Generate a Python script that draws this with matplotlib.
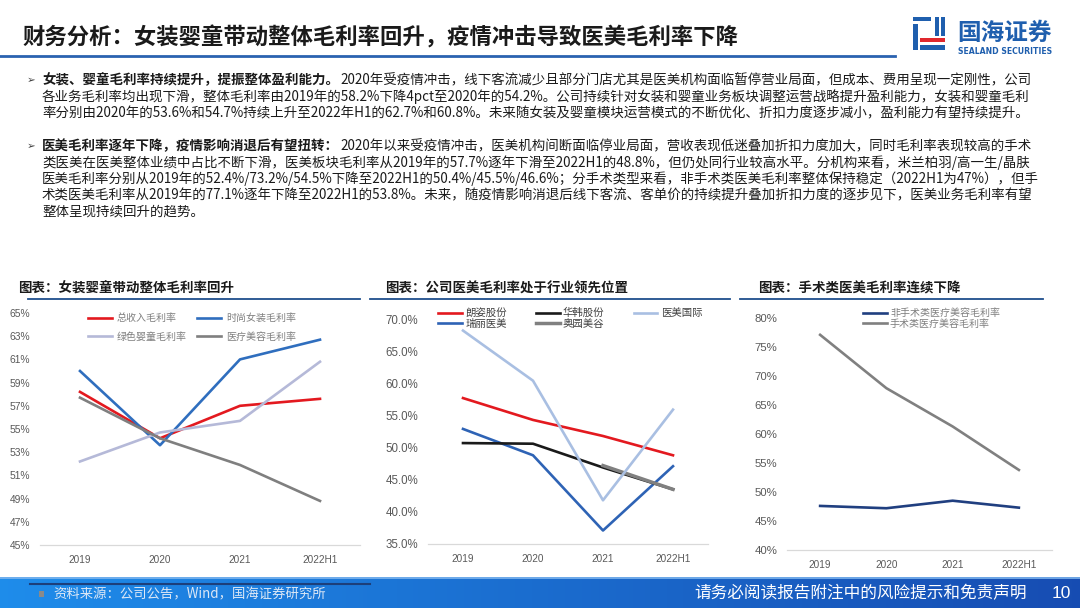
import numpy as np
import matplotlib
matplotlib.use("Agg")
import matplotlib.pyplot as plt
from matplotlib.patches import Rectangle
from matplotlib.lines import Line2D

plt.rcParams["font.family"] = ["Noto Sans CJK SC", "DejaVu Sans"]

W, H = 1080, 608

years = ["2019", "2020", "2021", "2022H1"]

# chart 1: gross margin by segment (%)
total_margin = [58.2, 54.2, 57.0, 57.6]
women_margin = [60.0, 53.6, 61.0, 62.7]
kids_margin = [52.2, 54.7, 55.7, 60.8]
medical_margin = [57.7, 54.2, 51.9, 48.8]

# chart 2: peers' medical beauty gross margin (%)
langzi = [57.7, 54.3, 51.8, 48.8]
huahan = [50.7, 50.6, 46.9, 43.5]
yimei_intl = [68.2, 60.4, 41.8, 55.9]
ruili = [52.9, 48.8, 37.1, 47.1]
aoyuan = [np.nan, np.nan, 47.2, 43.5]

# chart 3: surgical vs non-surgical (%)
non_surgical = [47.6, 47.2, 48.5, 47.3]
surgical = [77.1, 67.9, 61.3, 53.8]

fig = plt.figure(figsize=(W / 100, H / 100), dpi=100)


def fx(x):
    return x / W


def fy(y):
    return 1 - y / H


def add_ax(left, top, right, bottom):
    return fig.add_axes([fx(left), fy(bottom), (right - left) / W, (bottom - top) / H])


# ---- header ----
fig.text(fx(22), fy(38), "财务分析：女装婴童带动整体毛利率回升，疫情冲击导致医美毛利率下降",
         fontsize=16.1, fontweight="bold", color="#1a1a1a", va="center")
fig.add_artist(Line2D([0, fx(895)], [fy(56), fy(56)], color="#2a62b0", lw=2))

# logo
logo_blue = "#1f5fae"
for (x0, y0, w, h, c) in [(913, 17, 18, 4, logo_blue), (913, 24, 5, 26, logo_blue),
                          (935, 17, 4, 19, logo_blue), (941, 17, 4, 19, logo_blue),
                          (920, 38, 25, 4, "#e0282e"), (920, 45, 25, 5, logo_blue)]:
    fig.add_artist(Rectangle((fx(x0), fy(y0 + h)), w / W, h / H, color=c, lw=0))
fig.text(fx(957), fy(33), "国海证券", fontsize=17, fontweight="bold", color=logo_blue, va="center")
fig.text(fx(958), fy(52), "SEALAND SECURITIES", fontsize=5.6, fontweight="bold",
         color=logo_blue, va="center", family=["DejaVu Sans"])

# ---- bullet text ----
paras = [
    ("女装、婴童毛利率持续提升，提振整体盈利能力。",
     ["2020年受疫情冲击，线下客流减少且部分门店尤其是医美机构面临暂停营业局面，但成本、费用呈现一定刚性，公司",
      "各业务毛利率均出现下滑，整体毛利率由2019年的58.2%下降4pct至2020年的54.2%。公司持续针对女装和婴童业务板块调整运营战略提升盈利能力，女装和婴童毛利",
      "率分别由2020年的53.6%和54.7%持续上升至2022年H1的62.7%和60.8%。未来随女装及婴童模块运营模式的不断优化、折扣力度逐步减小，盈利能力有望持续提升。"],
     80),
    ("医美毛利率逐年下降，疫情影响消退后有望扭转：",
     ["2020年以来受疫情冲击，医美机构间断面临停业局面，营收表现低迷叠加折扣力度加大，同时毛利率表现较高的手术",
      "类医美在医美整体业绩中占比不断下滑，医美板块毛利率从2019年的57.7%逐年下滑至2022H1的48.8%，但仍处同行业较高水平。分机构来看，米兰柏羽/高一生/晶肤",
      "医美毛利率分别从2019年的52.4%/73.2%/54.5%下降至2022H1的50.4%/45.5%/46.6%；分手术类型来看，非手术类医美毛利率整体保持稳定（2022H1为47%），但手",
      "术类医美毛利率从2019年的77.1%逐年下降至2022H1的53.8%。未来，随疫情影响消退后线下客流、客单价的持续提升叠加折扣力度的逐步见下，医美业务毛利率有望",
      "整体呈现持续回升的趋势。"],
     146),
]
renderer = fig.canvas.get_renderer()
body_fs = 9.7
for bold, lines, y0 in paras:
    fig.text(fx(27), fy(y0), "➢", fontsize=7.5, color="#404040", va="center", family=["DejaVu Sans"])
    t = fig.text(fx(42), fy(y0), bold, fontsize=body_fs, fontweight="bold", color="#1a1a1a", va="center")
    bb = t.get_window_extent(renderer)
    for i, ln in enumerate(lines):
        x = bb.x1 + 1 if i == 0 else 42
        fig.text(fx(x), fy(y0 + i * 16.5), ln, fontsize=body_fs, color="#1a1a1a", va="center")

# ---- chart titles ----
titles = [(18, 28, 360, "图表：女装婴童带动整体毛利率回升"),
          (385, 370, 730, "图表：公司医美毛利率处于行业领先位置"),
          (758, 740, 1043, "图表：手术类医美毛利率连续下降")]
for tx, l0, l1, s in titles:
    fig.text(fx(tx), fy(289), s, fontsize=9.7, fontweight="bold", color="#1a1a1a", va="center")
    fig.add_artist(Line2D([fx(l0), fx(l1)], [fy(299), fy(299)], color="#1f4e8c", lw=1.3))

tick_font = {"family": ["Liberation Sans", "DejaVu Sans"]}


def style_ax(ax, ylim, step, fmt, yfs):
    x = np.arange(len(years))
    ax.set_xlim(-0.5, len(years) - 0.5)
    ax.set_ylim(*ylim)
    ax.set_xticks(x)
    ax.set_xticklabels(years, fontsize=7.2, color="#595959", **tick_font)
    yt = np.arange(ylim[0], ylim[1] + 0.01, step)
    ax.set_yticks(yt)
    ax.set_yticklabels([fmt.format(v) for v in yt], fontsize=yfs, color="#595959", **tick_font)
    for s in ["top", "right", "left"]:
        ax.spines[s].set_visible(False)
    ax.spines["bottom"].set_color("#d9d9d9")
    ax.spines["bottom"].set_linewidth(0.9)
    ax.tick_params(length=0)
    ax.tick_params(axis="y", pad=7)
    ax.tick_params(axis="x", pad=7)
    ax.patch.set_alpha(0)


x = np.arange(len(years))
lw = 1.9

# chart 1
ax1 = add_ax(40, 313, 360, 545)
l_total, = ax1.plot(x, total_margin, color="#e3191f", lw=lw, label="总收入毛利率")
l_women, = ax1.plot(x, women_margin, color="#2f6ebe", lw=lw, label="时尚女装毛利率")
l_kids, = ax1.plot(x, kids_margin, color="#b5b9d8", lw=lw, label="绿色婴童毛利率")
l_med, = ax1.plot(x, medical_margin, color="#7f7f7f", lw=lw, label="医疗美容毛利率")
style_ax(ax1, (45, 65), 2, "{:.0f}%", 7.4)
h1 = [l_total, l_kids, l_women, l_med]
ax1.legend(h1, [h.get_label() for h in h1], ncol=2, loc="upper left",
           bbox_to_anchor=(fx(88), fy(313)), bbox_transform=fig.transFigure,
           frameon=False, fontsize=7.2, labelcolor="#7f7f7f", handlelength=2.4, handletextpad=0.5,
           columnspacing=1.0, labelspacing=0.85, borderpad=0, borderaxespad=0)

# chart 2
ax2 = add_ax(428, 319, 708, 544)
ax2.plot(x, langzi, color="#e3191f", lw=lw, label="朗姿股份")
ax2.plot(x, ruili, color="#2e63b5", lw=lw, label="瑞丽医美")
ax2.plot(x, huahan, color="#1a1a1a", lw=lw, label="华韩股份")
ax2.plot(x, aoyuan, color="#808080", lw=lw + 0.6, label="奥园美谷")
ax2.plot(x, yimei_intl, color="#a9bfe2", lw=lw, label="医美国际")
style_ax(ax2, (35, 70), 5, "{:.1f}%", 8.3)
h2, l2 = ax2.get_legend_handles_labels()
ax2.legend(h2, l2, ncol=3, loc="upper left", bbox_to_anchor=(fx(438), fy(308)), bbox_transform=fig.transFigure,
           frameon=False, fontsize=7.5, labelcolor="#404040", handlelength=2.3, handletextpad=0.3,
           columnspacing=2.8, labelspacing=0.05, borderpad=0, borderaxespad=0)

# chart 3
ax3 = add_ax(787, 318, 1052, 550)
ax3.plot(x, non_surgical, color="#203f80", lw=lw, label="非手术类医疗美容毛利率")
ax3.plot(x, surgical, color="#808080", lw=lw, label="手术类医疗美容毛利率")
style_ax(ax3, (40, 80), 5, "{:.0f}%", 8.2)
ax3.legend(loc="upper left", bbox_to_anchor=(fx(863), fy(308)), bbox_transform=fig.transFigure,
           frameon=False, fontsize=7.2, labelcolor="#7f7f7f", handlelength=2.4, handletextpad=0.3,
           labelspacing=0.05, borderpad=0, borderaxespad=0)

# ---- footer ----
fax = fig.add_axes([0, 0, 1, 31 / H])
grad = np.linspace(0, 1, 256)
c0 = np.array([0.12, 0.55, 0.92])
c1 = np.array([0.09, 0.30, 0.70])
img = c0[None, :] + (c1 - c0)[None, :] * grad[:, None]
fax.imshow(img[None, :, :], aspect="auto", extent=[0, 1, 0, 1])
fax.set_xlim(0, 1)
fax.set_ylim(0, 1)
fax.axis("off")
fax.plot([0, 1], [0.97, 0.97], color="#7fb6ee", lw=1.2)
fax.plot([30 / W, 370 / W], [0.78, 0.78], color="#1d3f7a", lw=1.5)
fig.add_artist(Rectangle((fx(39), fy(597)), 5 / W, 6 / H, color="#8a8a8a", lw=0))
fig.text(fx(53), fy(594), "资料来源：公司公告，Wind，国海证券研究所", fontsize=9.6, style="italic",
         color="#dde8f6", va="center")
fig.text(fx(1027), fy(594), "请务必阅读报告附注中的风险提示和免责声明", fontsize=12, color="white",
         va="center", ha="right")
fig.text(fx(1071), fy(594), "10", fontsize=12.5, color="white", va="center", ha="right",
         family=["Liberation Sans", "DejaVu Sans"])

fig.savefig("out.png", dpi=100)
